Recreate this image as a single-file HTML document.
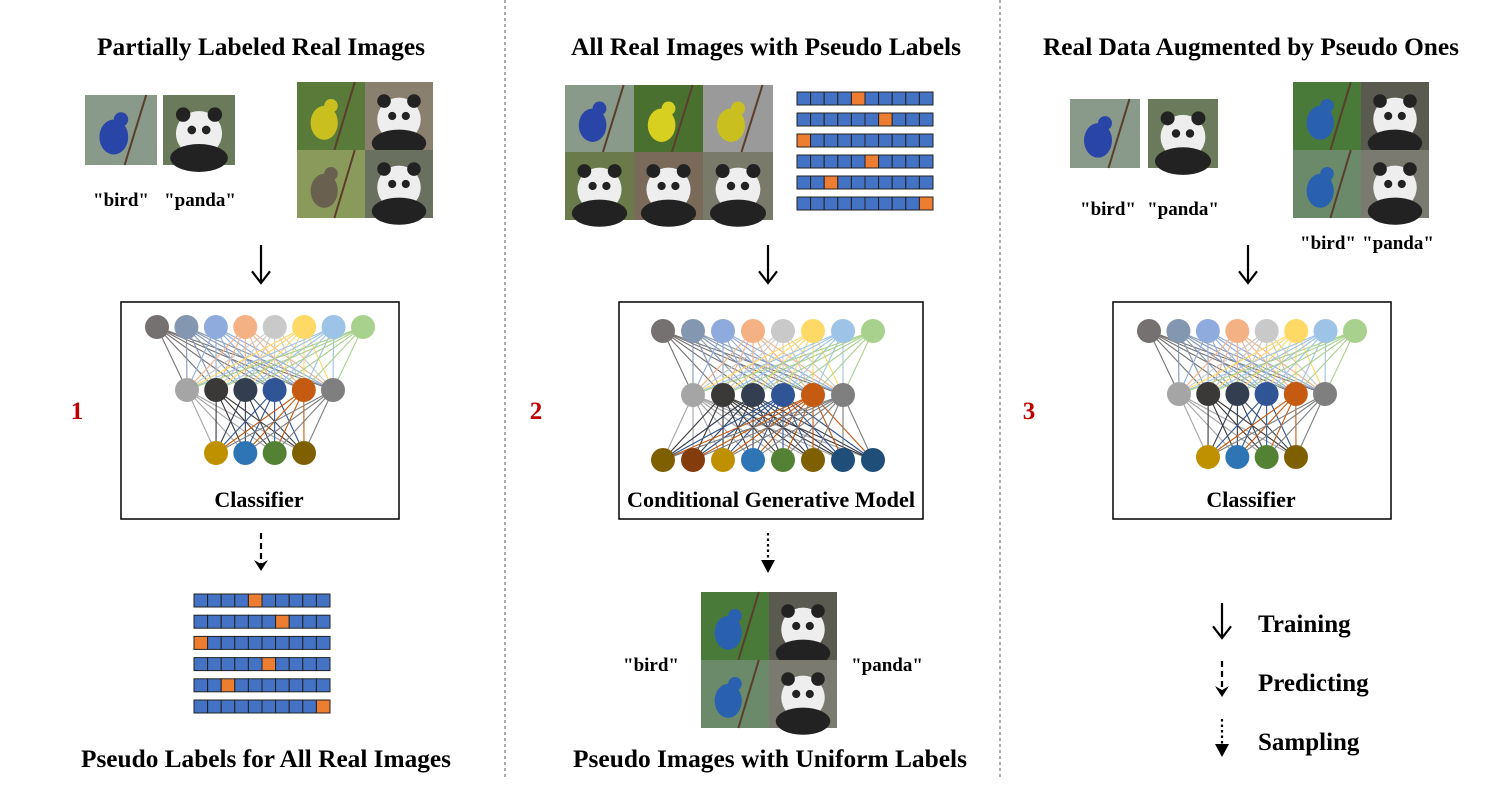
<!DOCTYPE html>
<html><head><meta charset="utf-8"><style>
html,body{margin:0;padding:0;background:#fff;width:1500px;height:797px;overflow:hidden}
svg text{font-family:"Liberation Serif",serif;font-weight:bold;fill:#000}
</style></head><body>
<svg id="s" width="1500" height="797" xmlns="http://www.w3.org/2000/svg">
<line x1="505" y1="0" x2="505" y2="780" stroke="#555" stroke-dasharray="3,3"/>
<line x1="1000" y1="0" x2="1000" y2="780" stroke="#555" stroke-dasharray="3,3"/>
<g font-size="25" text-anchor="middle" lengthAdjust="spacingAndGlyphs">
<text x="261" y="55" textLength="328" lengthAdjust="spacingAndGlyphs">Partially Labeled Real Images</text>
<text x="766" y="55" textLength="390" lengthAdjust="spacingAndGlyphs">All Real Images with Pseudo Labels</text>
<text x="1251" y="55" textLength="416" lengthAdjust="spacingAndGlyphs">Real Data Augmented by Pseudo Ones</text>
<text x="266" y="767" textLength="370" lengthAdjust="spacingAndGlyphs">Pseudo Labels for All Real Images</text>
<text x="770" y="767" textLength="394" lengthAdjust="spacingAndGlyphs">Pseudo Images with Uniform Labels</text>
</g>
<g font-size="19" text-anchor="middle">
<text x="121" y="206">"bird"</text><text x="200" y="206">"panda"</text>
<text x="1108" y="215">"bird"</text><text x="1183" y="215">"panda"</text>
<text x="1328" y="249">"bird"</text><text x="1398" y="249">"panda"</text>
<text x="651" y="671">"bird"</text><text x="887" y="671">"panda"</text>
</g>
<g font-size="22" text-anchor="middle">
<text x="259" y="507">Classifier</text>
<text x="771" y="507" textLength="288" lengthAdjust="spacingAndGlyphs">Conditional Generative Model</text>
<text x="1251" y="507">Classifier</text>
</g>
<g font-size="25" text-anchor="middle">
<text x="77" y="419" style="fill:#c00000">1</text>
<text x="536" y="419" style="fill:#c00000">2</text>
<text x="1029" y="419" style="fill:#c00000">3</text>
</g>
<g font-size="25">
<text x="1258" y="632">Training</text>
<text x="1258" y="691">Predicting</text>
<text x="1258" y="750">Sampling</text>
</g>
<rect x="121" y="302" width="278" height="217" fill="none" stroke="#000" stroke-width="1.5"/>
<rect x="619" y="302" width="304" height="217" fill="none" stroke="#000" stroke-width="1.5"/>
<rect x="1113" y="302" width="278" height="217" fill="none" stroke="#000" stroke-width="1.5"/>
<g id="dyn"></g>
</svg>
<script>
const NS="http://www.w3.org/2000/svg",g=document.getElementById('dyn');
function el(t,a){const e=document.createElementNS(NS,t);for(const k in a)e.setAttribute(k,a[k]);g.appendChild(e);return e;}
const top8=["#767171","#8497b0","#8faadc","#f4b183","#c9c9c9","#ffd966","#9dc3e6","#a9d18e"];
const mid6=["#a5a5a5","#3b3838","#333f50","#2f5597","#c55a11","#7f7f7f"];
const bot4=["#bf9000","#2e75b6","#548235","#7f6000"];
const bot8=["#7f6000","#843c0c","#bf9000","#2e75b6","#548235","#7f6000","#1f4e79","#1f4e79"];
function row(cols,x0,x1,y){return cols.map((c,i)=>({x:x0+(x1-x0)*i/(cols.length-1),y,c}));}
function net(layers){
 for(let l=0;l<layers.length-1;l++){for(const a of layers[l])for(const b of layers[l+1]){
  el('line',{x1:a.x,y1:a.y,x2:b.x,y2:b.y,stroke:a.c,'stroke-width':1.1});}}
 for(const L of layers)for(const n of L)el('circle',{cx:n.x,cy:n.y,r:12,fill:n.c});
}
net([row(top8,157,363,327),row(mid6,187,333,390),row(bot4,216,304,453)]);
net([row(top8,663,873,331),row(mid6,693,843,395),row(bot8,663,873,460)]);
net([row(top8,1149,1355,331),row(mid6,1179,1325,394),row(bot4,1208,1296,457)]);
function bars(x,y0,dy){const o=[4,6,0,5,2,9];for(let r=0;r<6;r++){const y=y0+r*dy;
 for(let i=0;i<10;i++)el('rect',{x:x+i*13.6,y:y,width:13.6,height:13,fill:i==o[r]?"#ed7d31":"#4472c4",stroke:"#222","stroke-width":1});}}
bars(194,594,21.2);bars(797,92,21);
function bird(x,y,w,h,body,bg){el('rect',{x,y,width:w,height:h,fill:bg});
 el('ellipse',{cx:x+w*0.4,cy:y+h*0.6,rx:w*0.2,ry:h*0.25,fill:body});
 el('circle',{cx:x+w*0.5,cy:y+h*0.35,r:w*0.1,fill:body});
 el('line',{x1:x+w*0.55,y1:y+h,x2:x+w*0.85,y2:y,stroke:"#5a3d2b","stroke-width":2});}
function panda(x,y,w,h,bg){el('rect',{x,y,width:w,height:h,fill:bg});
 el('ellipse',{cx:x+w*0.5,cy:y+h*0.55,rx:w*0.32,ry:h*0.32,fill:"#eee"});
 el('ellipse',{cx:x+w*0.5,cy:y+h*0.9,rx:w*0.4,ry:h*0.2,fill:"#222"});
 el('circle',{cx:x+w*0.28,cy:y+h*0.28,r:w*0.1,fill:"#222"});
 el('circle',{cx:x+w*0.72,cy:y+h*0.28,r:w*0.1,fill:"#222"});
 el('circle',{cx:x+w*0.4,cy:y+h*0.5,r:w*0.06,fill:"#222"});
 el('circle',{cx:x+w*0.6,cy:y+h*0.5,r:w*0.06,fill:"#222"});}
bird(85,95,72,70,"#2a45a8","#8a9a8a");panda(163,95,72,70,"#6a7a5a");
bird(297,82,68,68,"#c9c020","#5a7a3a");panda(365,82,68,68,"#8a8070");
bird(297,150,68,68,"#6a6050","#8a9a5a");panda(365,150,68,68,"#6a7060");
bird(565,85,69,67,"#2a45a8","#8a9a8a");bird(634,85,69,67,"#d8d020","#4a7030");bird(703,85,70,67,"#c9c020","#9a9a9a");
panda(565,152,69,68,"#6a7a4a");panda(634,152,69,68,"#7a6a5a");panda(703,152,70,68,"#7a7a6a");
function grid(x,y,s){bird(x,y,s,s,"#2a60b0","#4a7a3a");panda(x+s,y,s,s,"#5a5a50");bird(x,y+s,s,s,"#2a60b0","#6a8a6a");panda(x+s,y+s,s,s,"#7a7a70");}
grid(701,592,68);grid(1293,82,68);
bird(1070,99,70,69,"#2a45a8","#8a9a8a");panda(1148,99,70,69,"#6a7a5a");
function arrow(x,y1,y2,type,sz){sz=sz||9;
 const d=type=='solid'?null:(type=='dash'?"6,4":"2.5,3");
 const l=el('line',{x1:x,y1:y1,x2:x,y2:type=='dot'?y2-12:y2-2,stroke:"#000","stroke-width":2.2});if(d)l.setAttribute('stroke-dasharray',d);
 if(type=='solid')el('polyline',{points:`${x-sz},${y2-sz*1.3} ${x},${y2} ${x+sz},${y2-sz*1.3}`,fill:"none",stroke:"#000","stroke-width":2.2});
 else if(type=='dash')el('polygon',{points:`${x-7},${y2-11} ${x},${y2} ${x+7},${y2-11} ${x},${y2-7}`,fill:"#000"});
 else el('polygon',{points:`${x-7},${y2-13} ${x},${y2} ${x+7},${y2-13}`,fill:"#000"});}
arrow(261,245,283,'solid');arrow(768,245,283,'solid');arrow(1248,245,283,'solid');
arrow(261,533,571,'dash');arrow(768,533,573,'dot');
arrow(1222,603,638,'solid');arrow(1222,661,697,'dash');arrow(1222,719,757,'dot');
</script>
</body></html>
